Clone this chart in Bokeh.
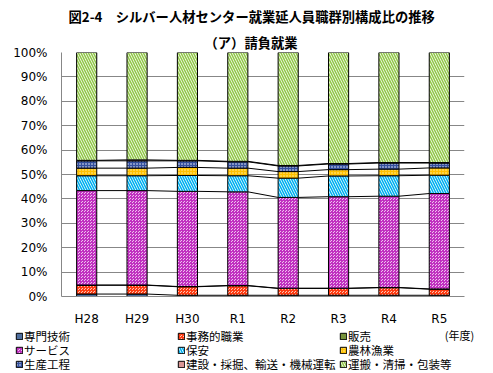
import numpy as np
from bokeh.plotting import figure
from bokeh.models import (ColumnDataSource, Range1d, FixedTicker, PrintfTickFormatter,
                          CustomJSTickFormatter, Label, Title, Legend, LegendItem)
from bokeh.embed import file_html
from bokeh.resources import INLINE

# ---- data (percent, bottom to top) ----
categories = ["H28", "H29", "H30", "R1", "R2", "R3", "R4", "R5"]
senmon = [1.0, 1.0, 0.5, 0.5, 0.5, 0.5, 0.5, 0.5]
jimu = [3.6, 3.6, 3.5, 3.9, 2.8, 2.8, 3.1, 2.5]
hanbai = [0.1, 0.1, 0.1, 0.1, 0.1, 0.1, 0.1, 0.1]
service = [38.7, 38.7, 39.0, 38.4, 37.2, 37.5, 37.4, 39.1]
hoan = [6.1, 6.1, 6.5, 6.6, 7.9, 8.5, 8.4, 7.5]
norin = [3.1, 3.1, 3.3, 3.1, 2.7, 2.6, 2.7, 3.0]
seisan = [3.0, 3.0, 2.7, 2.6, 2.3, 2.3, 2.5, 2.0]
kensetsu = [0.2, 0.4, 0.2, 0.2, 0.2, 0.2, 0.2, 0.2]
unpan = [44.2, 44.0, 44.2, 44.6, 46.3, 45.5, 45.1, 45.1]

series_labels = ["専門技術", "事務的職業", "販売", "サービス", "保安", "農林漁業",
                 "生産工程", "建設・採掘、輸送・機械運転", "運搬・清掃・包装等"]
series_values = [senmon, jimu, hanbai, service, hoan, norin, seisan, kensetsu, unpan]
keys = ["s%d" % i for i in range(len(series_values))]

title_main = "図2-4　シルバー人材センター就業延人員職群別構成比の推移"
title_sub = "（ア）請負就業"
unit_text = "(年度)"

x = [i + 0.5 for i in range(len(categories))]
data = dict(x=x)
for k, v in zip(keys, series_values):
    data[k] = v
src = ColumnDataSource(data)

fill_colors = ["#4F6F9F", "#FBC7B5", "#77933C", "#EEC2EE", "#FFFFFF", "#FFC000",
               "#34509E", "#D99694", "#FFFFFF"]
hatch_patterns = [None, "criss_cross", None, "criss_cross", "left_diagonal_line", "dot",
                  "dot", None, "left_diagonal_line"]
hatch_colors = ["black", "#FF3A10", "black", "#C030C0", "#00B0F0", "#FFF2B0",
                "#FFFFFF", "black", "#92C84A"]
hatch_scales = [6, 3, 6, 3, 5, 3, 3, 6, 5]
hatch_weights = [1, 1, 1, 1, 1.6, 1, 1, 1, 1.6]

# ---------------- main chart ----------------
p = figure(frame_width=403, frame_height=244, x_range=Range1d(0, 8), y_range=Range1d(0, 100),
           output_backend="svg", toolbar_location=None,
           min_border_left=61, min_border_right=29, min_border_top=52, min_border_bottom=29)
p.outline_line_color = None

p.xgrid.visible = False
p.ygrid.grid_line_color = "#878787"
p.ygrid.grid_line_width = 1

p.yaxis.ticker = FixedTicker(ticks=list(range(0, 101, 10)))
p.yaxis.formatter = PrintfTickFormatter(format="%d%%")
p.xaxis.ticker = FixedTicker(ticks=x)
p.xaxis.formatter = CustomJSTickFormatter(args=dict(labels=categories),
                                          code="return labels[Math.floor(tick)];")
for ax in (p.xaxis[0], p.yaxis[0]):
    ax.axis_line_color = "#878787"
    ax.major_tick_line_color = None
    ax.minor_tick_line_color = None
    ax.major_tick_out = 0
    ax.major_tick_in = 0
    ax.major_label_text_font = "DejaVu Sans"
    ax.major_label_text_font_size = "12px"
    ax.major_label_text_color = "black"
p.yaxis.major_label_standoff = 14
p.xaxis.major_label_standoff = 15

renderers = p.vbar_stack(keys, x="x", width=0.4, source=src,
                         fill_color=fill_colors, hatch_pattern=hatch_patterns,
                         hatch_color=hatch_colors, hatch_scale=hatch_scales,
                         hatch_weight=hatch_weights,
                         line_color="black", line_width=1)

# series lines connecting stack boundaries between adjacent bars
cum = np.cumsum(np.array(series_values), axis=0)
x0s, y0s, x1s, y1s = [], [], [], []
for k in range(len(series_values) - 1):
    for i in range(len(categories) - 1):
        x0s.append(x[i] + 0.2)
        x1s.append(x[i + 1] - 0.2)
        y0s.append(cum[k, i])
        y1s.append(cum[k, i + 1])
p.segment(x0=x0s, y0=y0s, x1=x1s, y1=y1s, line_color="black", line_width=1)

t_sub = Title(text=title_sub, align="left", offset=143, vertical_align="middle",
              text_font="Noto Sans CJK JP", text_font_style="bold", text_font_size="13.3px",
              standoff=0, text_color="black")
t_main = Title(text=title_main, align="left", offset=7, vertical_align="middle",
               text_font="Noto Sans CJK JP", text_font_style="bold", text_font_size="13.3px",
               standoff=9, text_color="black")
p.add_layout(t_sub, "above")
p.add_layout(t_main, "above")

# ---------------- legend strip ----------------
p2 = figure(width=493, height=48, x_range=Range1d(0, 493), y_range=Range1d(0, 48),
            x_axis_location=None, y_axis_location=None, output_backend="svg",
            toolbar_location=None, min_border=0)
p2.outline_line_color = None
p2.grid.visible = False

legend_renderers = []
for i, lab in enumerate(series_labels):
    # off-range proxy glyph carrying the series style for the legend swatch
    r = p2.vbar(x=[-100], top=[1], width=1, fill_color=fill_colors[i],
                hatch_pattern=hatch_patterns[i], hatch_color=hatch_colors[i],
                hatch_scale=hatch_scales[i], hatch_weight=hatch_weights[i],
                line_color="black", line_width=1)
    legend_renderers.append(r)

col_offsets = [15, 177, 339]
row_offsets = [32, 18, 4]
for j, lab in enumerate(series_labels):
    row, col = divmod(j, 3)
    leg = Legend(items=[LegendItem(label=lab, renderers=[legend_renderers[j]])],
                 location=(col_offsets[col], row_offsets[row]), orientation="horizontal",
                 label_text_font="Noto Sans CJK JP", label_text_font_size="11.5px",
                 label_text_color="black", glyph_width=8, glyph_height=8, label_standoff=1,
                 label_width=20, label_height=14, spacing=0, padding=0, margin=0,
                 background_fill_alpha=0, border_line_color=None)
    p2.add_layout(leg)

unit = Label(x=459, y=41.5, text=unit_text, text_align="center", text_baseline="middle",
             text_font="Noto Sans CJK JP", text_font_size="11px", text_color="black")
p2.add_layout(unit)

open("out.html", "w").write(file_html([p, p2], INLINE))
